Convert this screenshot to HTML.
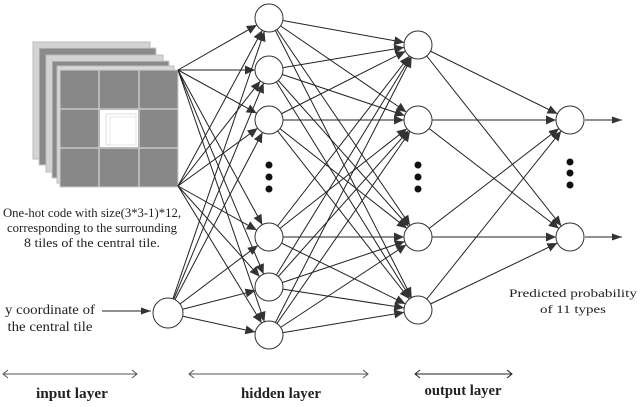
<!DOCTYPE html>
<html><head><meta charset="utf-8"><style>
body{margin:0;background:#fff;}
svg{display:block;}
</style></head><body>
<svg width="640" height="407" viewBox="0 0 640 407" xmlns="http://www.w3.org/2000/svg" font-family="'Liberation Serif', 'DejaVu Serif', serif">
<defs>
<marker id="a" markerUnits="userSpaceOnUse" markerWidth="40" markerHeight="12" viewBox="0 0 40 12" refX="24" refY="6" orient="auto">
<path d="M0,1.5 L10,6 L0,10.5 Z" fill="#333"/></marker>
<marker id="b" markerUnits="userSpaceOnUse" markerWidth="12" markerHeight="12" viewBox="0 0 12 12" refX="10" refY="6" orient="auto">
<path d="M0,2.5 L10,6 L0,9.5 Z" fill="#333"/></marker>
</defs>
<g>
<rect x="33" y="42" width="117" height="117" fill="#d4d4d4" stroke="#bbb"/>
<rect x="39" y="48" width="117" height="117" fill="#8a8a8a" stroke="#ccc"/>
<rect x="46" y="55" width="117" height="117" fill="#d4d4d4" stroke="#bbb"/>
<rect x="52" y="61" width="117" height="117" fill="#8a8a8a" stroke="#ccc"/>
<rect x="57" y="66" width="117" height="117" fill="#d8d8d8" stroke="#bbb"/>
<rect x="60" y="70" width="118" height="117" fill="#888" stroke="#ccc"/>
<line x1="99" y1="70" x2="99" y2="187" stroke="#c8c8c8" stroke-width="1.5"/>
<line x1="139" y1="70" x2="139" y2="187" stroke="#c8c8c8" stroke-width="1.5"/>
<line x1="60" y1="109" x2="178" y2="109" stroke="#c8c8c8" stroke-width="1.5"/>
<line x1="60" y1="148" x2="178" y2="148" stroke="#c8c8c8" stroke-width="1.5"/>
<rect x="100" y="110" width="38" height="37" fill="#fff"/>
<rect x="106" y="114" width="30" height="31" fill="none" stroke="#ddd"/>
<rect x="110" y="117" width="26" height="28" fill="none" stroke="#e4e4e4"/>
</g>
<g stroke="#222" stroke-width="1" marker-end="url(#a)">
<line x1="178" y1="70" x2="269" y2="18"/><line x1="178" y1="70" x2="269" y2="70"/><line x1="178" y1="70" x2="269" y2="120"/>
<line x1="178" y1="70" x2="269" y2="237"/><line x1="178" y1="70" x2="269" y2="287"/><line x1="178" y1="70" x2="269" y2="335"/>
<line x1="178" y1="186" x2="269" y2="18"/><line x1="178" y1="186" x2="269" y2="70"/><line x1="178" y1="186" x2="269" y2="120"/>
<line x1="178" y1="186" x2="269" y2="237"/><line x1="178" y1="186" x2="269" y2="287"/><line x1="178" y1="186" x2="269" y2="335"/>
<line x1="168" y1="313" x2="269" y2="18"/><line x1="168" y1="313" x2="269" y2="70"/><line x1="168" y1="313" x2="269" y2="120"/>
<line x1="168" y1="313" x2="269" y2="237"/><line x1="168" y1="313" x2="269" y2="287"/><line x1="168" y1="313" x2="269" y2="335"/>
<line x1="269" y1="18" x2="418" y2="45"/><line x1="269" y1="18" x2="418" y2="120"/><line x1="269" y1="18" x2="418" y2="237"/><line x1="269" y1="18" x2="418" y2="310"/>
<line x1="269" y1="70" x2="418" y2="45"/><line x1="269" y1="70" x2="418" y2="120"/><line x1="269" y1="70" x2="418" y2="237"/><line x1="269" y1="70" x2="418" y2="310"/>
<line x1="269" y1="120" x2="418" y2="45"/><line x1="269" y1="120" x2="418" y2="120"/><line x1="269" y1="120" x2="418" y2="237"/><line x1="269" y1="120" x2="418" y2="310"/>
<line x1="269" y1="237" x2="418" y2="45"/><line x1="269" y1="237" x2="418" y2="120"/><line x1="269" y1="237" x2="418" y2="237"/><line x1="269" y1="237" x2="418" y2="310"/>
<line x1="269" y1="287" x2="418" y2="45"/><line x1="269" y1="287" x2="418" y2="120"/><line x1="269" y1="287" x2="418" y2="237"/><line x1="269" y1="287" x2="418" y2="310"/>
<line x1="269" y1="335" x2="418" y2="45"/><line x1="269" y1="335" x2="418" y2="120"/><line x1="269" y1="335" x2="418" y2="237"/><line x1="269" y1="335" x2="418" y2="310"/>
<line x1="418" y1="45" x2="570" y2="120"/><line x1="418" y1="45" x2="570" y2="237"/>
<line x1="418" y1="120" x2="570" y2="120"/><line x1="418" y1="120" x2="570" y2="237"/>
<line x1="418" y1="237" x2="570" y2="120"/><line x1="418" y1="237" x2="570" y2="237"/>
<line x1="418" y1="310" x2="570" y2="120"/><line x1="418" y1="310" x2="570" y2="237"/>
</g>
<g stroke="#222" stroke-width="1" marker-end="url(#b)">
<line x1="102" y1="311" x2="151" y2="311"/>
<line x1="585" y1="120" x2="622" y2="120"/>
<line x1="585" y1="237" x2="622" y2="237"/>
</g>
<g fill="#fff" stroke="#333" stroke-width="1">
<circle cx="269" cy="18" r="14"/><circle cx="269" cy="70" r="14"/><circle cx="269" cy="120" r="14"/>
<circle cx="269" cy="237" r="14"/><circle cx="269" cy="287" r="14"/><circle cx="269" cy="335" r="14"/>
<circle cx="418" cy="45" r="14"/><circle cx="418" cy="120" r="14"/><circle cx="418" cy="237" r="14"/><circle cx="418" cy="310" r="14"/>
<circle cx="570" cy="120" r="14"/><circle cx="570" cy="237" r="14"/>
<circle cx="168" cy="313" r="15"/>
</g>
<g fill="#111">
<circle cx="269" cy="165" r="3.5"/><circle cx="269" cy="177" r="3.5"/><circle cx="269" cy="189" r="3.5"/>
<circle cx="418" cy="165" r="3.5"/><circle cx="418" cy="177" r="3.5"/><circle cx="418" cy="189" r="3.5"/>
<circle cx="570" cy="162" r="3.5"/><circle cx="570" cy="173" r="3.5"/><circle cx="570" cy="185" r="3.5"/>
</g>
<g font-size="12.5" text-anchor="middle" fill="#222" font-family="'Liberation Serif', serif">
<text x="92" y="217" textLength="178" lengthAdjust="spacingAndGlyphs">One-hot code with size(3*3-1)*12,</text>
<text x="92" y="232" textLength="170" lengthAdjust="spacingAndGlyphs">corresponding to the surrounding</text>
<text x="92" y="247" textLength="136" lengthAdjust="spacingAndGlyphs">8 tiles of the central tile.</text>
<text x="50" y="314" font-size="14" textLength="90" lengthAdjust="spacingAndGlyphs">y coordinate of</text>
<text x="50" y="331" font-size="14" textLength="85" lengthAdjust="spacingAndGlyphs">the central tile</text>
<text x="573" y="297" font-size="12" textLength="128" lengthAdjust="spacingAndGlyphs">Predicted probability</text>
<text x="573" y="313" font-size="12" textLength="66" lengthAdjust="spacingAndGlyphs">of 11 types</text>
</g>
<g stroke="#555" stroke-width="1" fill="none">
<line x1="3" y1="374" x2="137" y2="374"/><path d="M8,370 L3,374 L8,378 M132,370 L137,374 L132,378"/>
<line x1="189" y1="374" x2="368" y2="374"/><path d="M194,370 L189,374 L194,378 M363,370 L368,374 L363,378"/>
<line x1="415" y1="374" x2="512" y2="374" stroke="#222"/><path d="M420,370 L415,374 L420,378 M507,370 L512,374 L507,378" stroke="#222"/>
</g>
<g font-size="15" font-weight="bold" text-anchor="middle" fill="#222" font-family="'Liberation Serif', serif">
<text x="72" y="398" textLength="72" lengthAdjust="spacingAndGlyphs">input layer</text>
<text x="281" y="398" textLength="80" lengthAdjust="spacingAndGlyphs">hidden layer</text>
<text x="463" y="395" textLength="77" lengthAdjust="spacingAndGlyphs">output layer</text>
</g>
</svg>
</body></html>
